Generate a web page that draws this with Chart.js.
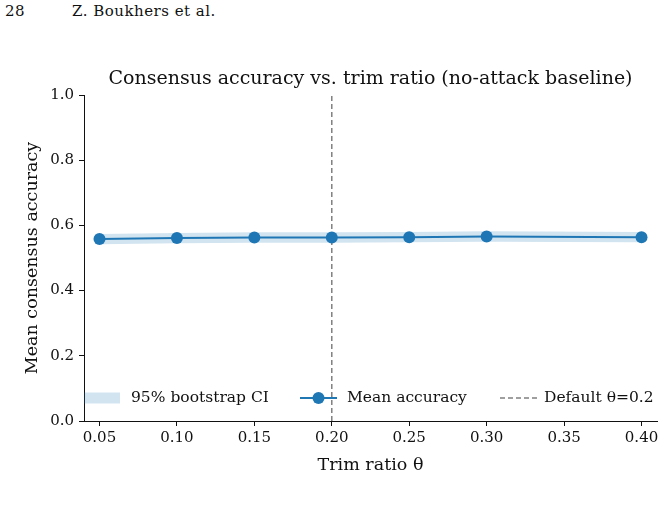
<!DOCTYPE html>
<html>
<head>
<meta charset="utf-8">
<title>Consensus accuracy vs. trim ratio</title>
<script src="https://cdn.jsdelivr.net/npm/chart.js@4.4.0/dist/chart.umd.min.js"></script>
<style>
  body { margin: 0; background: #fff; }
  #page-head {
    position: absolute; left: 5px; top: 2px;
    font-family: "DejaVu Serif", serif; font-size: 15px; letter-spacing: 0.5px; color: #111;
  }
  #page-head .authors { position: absolute; left: 67px; white-space: nowrap; }
  #wrap { position: absolute; left: 0; top: 0; width: 665px; height: 520px; }
</style>
</head>
<body>
<div id="page-head"><span>28</span><span class="authors">Z. Boukhers et al.</span></div>
<div id="wrap"><canvas id="chart" width="665" height="520"></canvas></div>
<script>
// Data
const trimRatios = [0.05, 0.10, 0.15, 0.20, 0.25, 0.30, 0.40];
const meanAcc = [0.558, 0.561, 0.563, 0.563, 0.564, 0.566, 0.564];
const ciLow = [0.542, 0.545, 0.547, 0.547, 0.548, 0.550, 0.548];
const ciHigh = [0.574, 0.577, 0.579, 0.579, 0.580, 0.582, 0.580];
const xTicks = [0.05, 0.10, 0.15, 0.20, 0.25, 0.30, 0.35, 0.40];
const yTicks = [0.0, 0.2, 0.4, 0.6, 0.8, 1.0];
const defaultTheta = 0.2;

const BLUE = "#1f77b4";
const BAND = "rgba(31,119,180,0.2)";
const GREY = "#808080";
const FONT = "'DejaVu Serif', serif";

const pts = (ys) => trimRatios.map((x, i) => ({ x: x, y: ys[i] }));

// Legend drawn inside the plot, bottom row (no frame)
const legendRow = {
  id: "legendRow",
  afterDatasetsDraw(chart) {
    const { ctx, chartArea } = chart;
    const L = chartArea.left;
    const y = chartArea.bottom - 23;
    ctx.save();
    ctx.fillStyle = BAND;
    ctx.fillRect(L, y - 5.5, 36, 11);

    ctx.strokeStyle = BLUE;
    ctx.lineWidth = 2;
    ctx.beginPath();
    ctx.moveTo(L + 216, y); ctx.lineTo(L + 253, y);
    ctx.stroke();
    ctx.fillStyle = BLUE;
    ctx.beginPath();
    ctx.arc(L + 234.5, y, 6, 0, Math.PI * 2);
    ctx.fill();

    ctx.strokeStyle = GREY;
    ctx.lineWidth = 1.5;
    ctx.setLineDash([5, 3]);
    ctx.beginPath();
    ctx.moveTo(L + 416, y); ctx.lineTo(L + 453, y);
    ctx.stroke();
    ctx.setLineDash([]);

    ctx.fillStyle = "#111";
    ctx.font = "15.5px " + FONT;
    ctx.textBaseline = "middle";
    ctx.fillText("95% bootstrap CI", L + 47, y);
    ctx.fillText("Mean accuracy", L + 263, y);
    ctx.fillText("Default \u03b8=0.2", L + 460, y);
    ctx.restore();
  }
};

new Chart(document.getElementById("chart"), {
  type: "line",
  data: {
    datasets: [
      {
        label: "ci-low",
        data: pts(ciLow),
        borderWidth: 0,
        pointRadius: 0,
        fill: false
      },
      {
        label: "95% bootstrap CI",
        data: pts(ciHigh),
        borderWidth: 0,
        pointRadius: 0,
        backgroundColor: BAND,
        fill: "-1"
      },
      {
        label: "Mean accuracy",
        data: pts(meanAcc),
        borderColor: BLUE,
        backgroundColor: BLUE,
        borderWidth: 2,
        pointRadius: 6,
        pointBorderWidth: 0,
        fill: false
      },
      {
        label: "Default \u03b8=0.2",
        data: [{ x: defaultTheta, y: 0 }, { x: defaultTheta, y: 1 }],
        borderColor: GREY,
        borderWidth: 1.5,
        borderDash: [5, 3],
        pointRadius: 0,
        fill: false
      }
    ]
  },
  options: {
    responsive: false,
    animation: false,
    layout: { padding: { left: 0, right: 8, top: 0, bottom: 44 } },
    plugins: {
      legend: { display: false },
      tooltip: { enabled: false },
      title: {
        display: true,
        fullSize: false,
        text: "Consensus accuracy vs. trim ratio (no-attack baseline)",
        color: "#111",
        font: { family: FONT, size: 19, weight: "normal" },
        padding: { top: 67.5, bottom: 4.7 }
      }
    },
    scales: {
      x: {
        type: "linear",
        min: 0.04,
        max: 0.41,
        afterBuildTicks: (s) => { s.ticks = xTicks.map(v => ({ value: v })); },
        afterFit: (s) => { s.height = 55; },
        ticks: {
          color: "#111",
          font: { family: FONT, size: 15 },
          padding: 3,
          callback: (v) => Number(v).toFixed(2)
        },
        grid: { drawOnChartArea: false, drawTicks: true, tickLength: 5, tickColor: "#111" },
        border: { display: true, color: "#111", width: 1 },
        title: {
          display: true,
          text: "Trim ratio \u03b8",
          color: "#111",
          font: { family: FONT, size: 17.5 },
          padding: { top: 4, bottom: 0 }
        }
      },
      y: {
        min: 0,
        max: 1,
        afterBuildTicks: (s) => { s.ticks = yTicks.map(v => ({ value: v })); },
        afterFit: (s) => { s.width = 84; },
        ticks: {
          color: "#111",
          font: { family: FONT, size: 15 },
          padding: 5,
          callback: (v) => Number(v).toFixed(1)
        },
        grid: { drawOnChartArea: false, drawTicks: true, tickLength: 5, tickColor: "#111" },
        border: { display: true, color: "#111", width: 1 },
        title: {
          display: true,
          text: "Mean consensus accuracy",
          color: "#111",
          font: { family: FONT, size: 17.5 },
          padding: { top: 21.5, bottom: 0 }
        }
      }
    }
  },
  plugins: [legendRow]
});
</script>
</body>
</html>
